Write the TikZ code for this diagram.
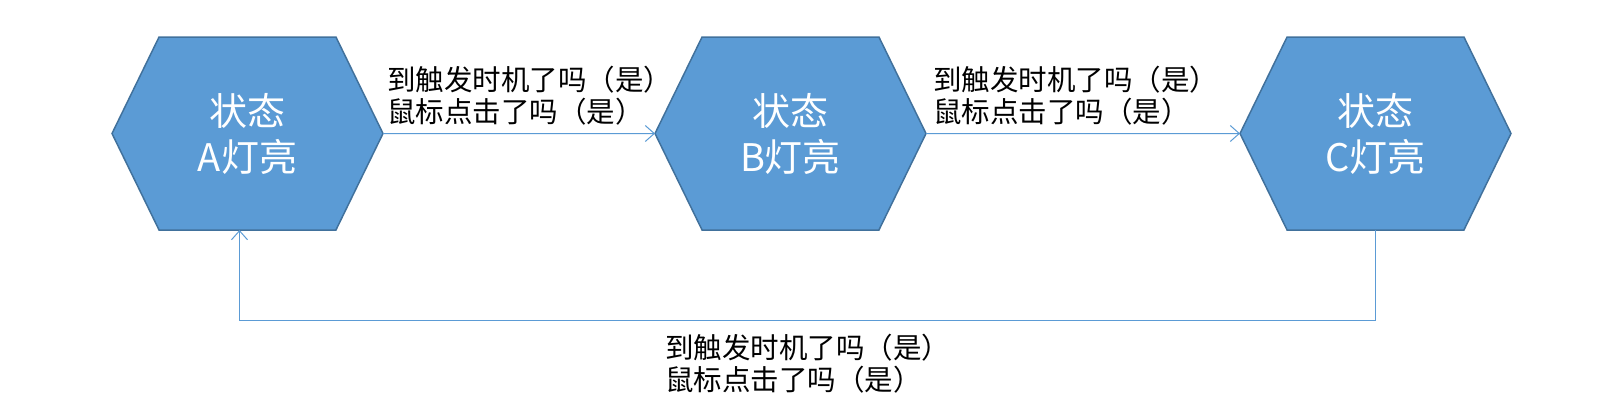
\documentclass[tikz,border=0pt]{standalone}
\usepackage{fontspec}
\usepackage{tikz}
\usetikzlibrary{shapes.symbols,arrows.meta,positioning,calc}
\newfontfamily\cjk{Noto Sans CJK SC}
\definecolor{hexfill}{HTML}{5B9BD5}
\definecolor{hexline}{HTML}{41719C}
\tikzstyle{state} = [signal, signal to = west and east, signal pointer angle = 128, minimum width = 271pt, minimum height = 193pt, inner sep = 0pt, outer sep = 0pt, fill = hexfill, draw = hexline, line width = 1.5pt, text = white, align = center, font = \cjk\fontsize{38}{46}\selectfont]
\tikzstyle{cond} = [align = left, inner sep = 0pt, font = \cjk\fontsize{28.5}{32}\selectfont]
\tikzstyle{arrow} = [line width = 1pt, draw = hexfill, -{Straight Barb[length = 9pt, width = 16pt]}]

\begin{document}
\begin{tikzpicture}[x = 1pt, y = -1pt, node distance = 272pt]
    \useasboundingbox (0,0) rectangle (1622,416);
    \node (A) [state] at (247.5,133.5) {状态\\A灯亮};
    \node (B) [state, right = 272pt of A] {状态\\B灯亮};
    \node (C) [state, right = 314pt of B] {状态\\C灯亮};
    \coordinate (base) at (0,320);
    \coordinate (Ain) at ([xshift = -8pt]A.south);

    \node (ab) [cond, anchor = west] at ($(A.east)+(4,-38)$) {到触发时机了吗（是）\\鼠标点击了吗（是）};
    \node (bc) [cond, anchor = west] at ($(B.east)+(7,-38)$) {到触发时机了吗（是）\\鼠标点击了吗（是）};

    \draw [arrow] (A) -- (B);
    \draw [arrow] (B) -- (C);
    \draw [arrow] (C.south) -- (C.south |- base) -- node (ca) [cond, below = 14pt] {到触发时机了吗（是）\\鼠标点击了吗（是）} (Ain |- base) -- (Ain);
\end{tikzpicture}
\end{document}
